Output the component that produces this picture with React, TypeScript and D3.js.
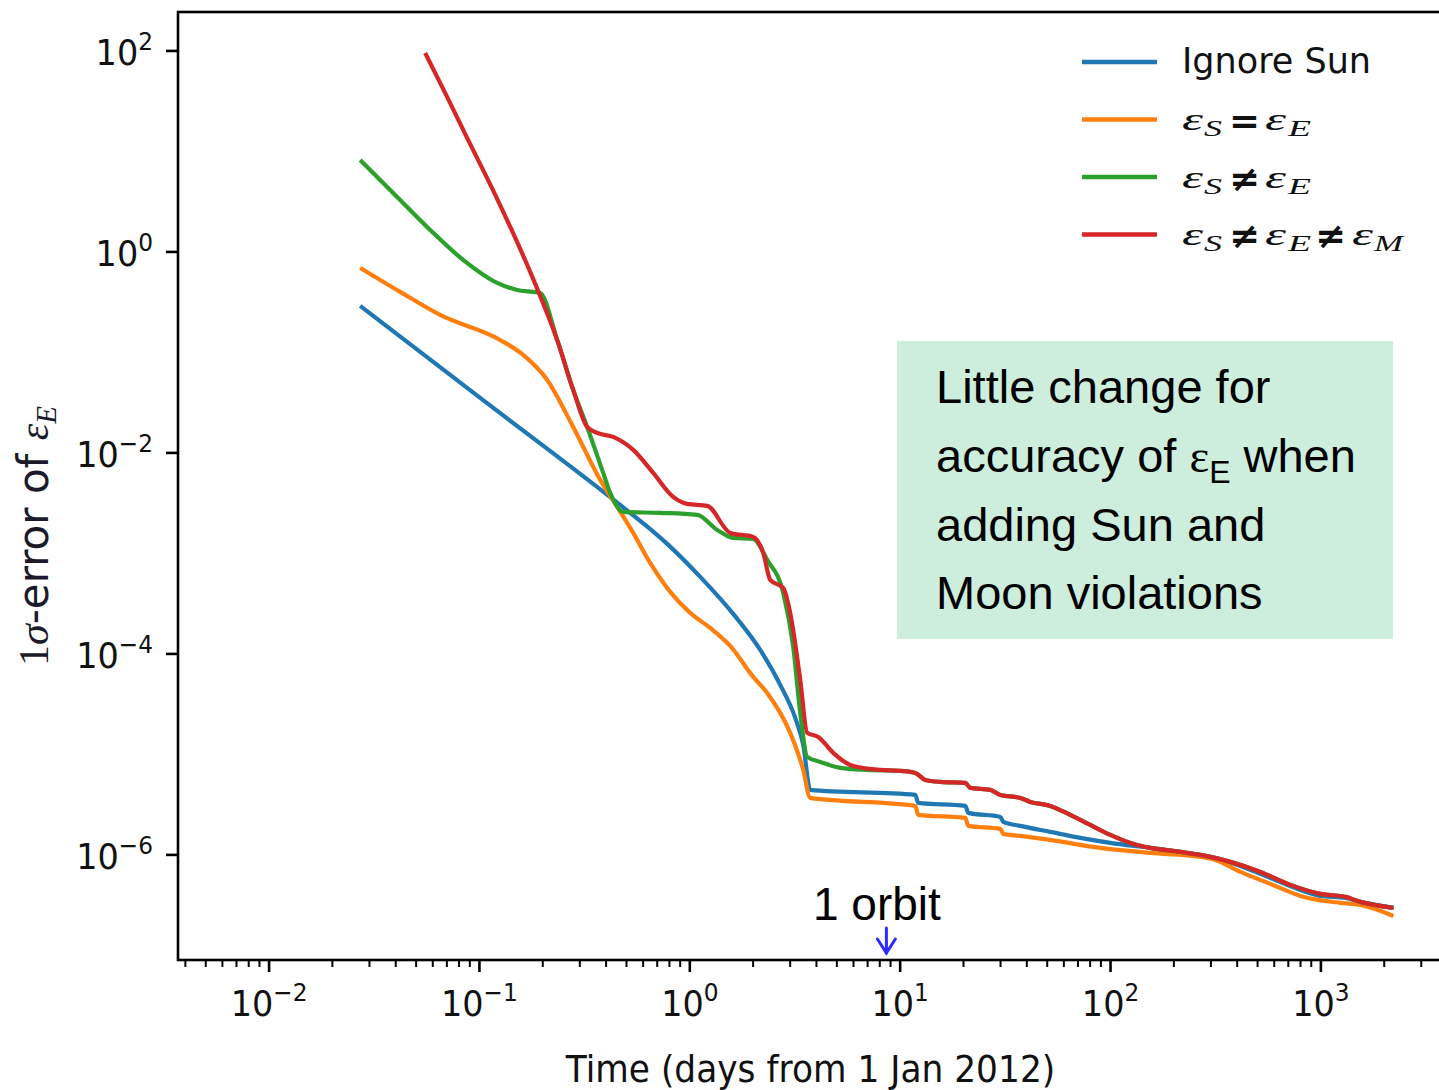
import React from 'react';
import * as d3 from 'd3';

// ---------- data (time in days, 1-sigma error of epsilon_E) ----------
const ignoreSun: [number, number][] = [
  [0.0271, 0.2901], [0.1008, 0.03525], [0.4667, 0.003038], [0.6137, 0.001921],
  [0.7808, 1.243e-3], [1.121, 5.836e-4], [1.608, 2.5e-4], [2.161, 1.096e-4],
  [2.691, 4.915e-5], [3.171, 2.308e-5], [3.461, 1.243e-5], [3.737, 4.434e-6],
  [11.8, 3.954e-6], [12.19, 3.291e-6], [20.4, 3.074e-6], [21.08, 2.618e-6],
  [29.92, 2.388e-6], [30.93, 2.129e-6], [37.25, 1.943e-6], [51.73, 1.693e-6],
  [71.84, 1.476e-6], [99.8, 1.316e-6], [154.6, 1.174e-6], [267.3, 1.0e-6],
  [315.1, 9.34e-7], [414.2, 7.77e-7], [575.4, 5.9e-7], [798.9, 4.48e-7],
  [994.5, 3.91e-7], [1308, 3.73e-7], [1541, 3.41e-7], [2212, 2.97e-7],
];

const sunEqualEarth: [number, number][] = [
  [0.0271, 0.6933], [0.042, 0.3999], [0.065, 0.2361], [0.1254, 0.1331],
  [0.1614, 0.09443], [0.2099, 0.05326], [0.279, 0.01814], [0.375, 0.005387],
  [0.4516, 0.002902], [0.5382, 0.001599], [0.6481, 8.04e-4], [0.8069, 4.139e-4],
  [1.004, 2.559e-4], [1.25, 1.814e-4], [1.556, 1.201e-4], [2.002, 5.9e-5],
  [2.333, 4.09e-5], [3.001, 1.637e-5], [3.461, 7.011e-6], [3.737, 3.691e-6],
  [11.8, 3.074e-6],
  [12.19, 2.5e-6], [20.4, 2.334e-6], [21.08, 1.943e-6], [29.92, 1.813e-6],
  [30.93, 1.618e-6], [37.25, 1.545e-6], [51.73, 1.41e-6], [89.44, 1.174e-6],
  [154.6, 1.047e-6], [267.3, 9.55e-7], [315.1, 8.92e-7], [414.2, 6.77e-7],
  [575.4, 5.15e-7], [798.9, 3.91e-7], [1238, 3.33e-7], [1541, 3.18e-7],
  [2212, 2.47e-7],
];

const sunNotEarth: [number, number][] = [
  [0.0271, 8.23], [0.04062, 3.526], [0.0583, 1.655], [0.08365, 0.8325],
  [0.1214, 0.4915], [0.1511, 0.4186], [0.18, 0.3999], [0.1943, 0.3909],
  [0.2342, 0.1331], [0.279, 0.04234], [0.3252, 0.01814], [0.3874, 0.006324],
  [0.4183, 0.003999], [0.4823, 0.002588], [0.7233, 0.002529], [1.084, 0.002415],
  [1.35, 0.001713], [1.608, 0.001426], [2.002, 0.001393], [2.333, 8.618e-4],
  [2.781, 4.045e-4], [3.103, 1.174e-4], [3.35, 2.588e-5], [3.616, 9.443e-6],
  [4.169, 8.421e-6], [5.191, 7.34e-6], [6.975, 7.011e-6],
  [10.01, 6.852e-6], [11.8, 6.545e-6], [13.16, 5.575e-6], [15.51, 5.326e-6],
  [20.4, 5.205e-6], [21.54, 4.642e-6], [26.82, 4.434e-6], [29.92, 3.954e-6],
  [37.25, 3.691e-6], [41.56, 3.368e-6], [51.73, 3.074e-6], [64.41, 2.5e-6],
  [80.15, 1.988e-6], [99.8, 1.58e-6], [124.2, 1.316e-6], [154.6, 1.174e-6],
  [214.8, 1.071e-6], [298.3, 9.55e-7], [371.3, 8.52e-7], [515.6, 6.77e-7],
  [716.0, 5.03e-7], [994.5, 4.09e-7], [1308, 3.82e-7], [1541, 3.41e-7],
  [2212, 2.97e-7],
];

const sunEarthMoon: [number, number][] = [
  [0.0552, 95.5], [0.06869, 38.2], [0.08551, 14.94], [0.1214, 3.368],
  [0.1743, 0.6324], [0.1943, 0.365], [0.2342, 0.1331], [0.279, 0.04234],
  [0.3252, 0.01814], [0.3628, 0.01581], [0.4323, 0.01442], [0.5382, 0.01071],
  [0.6697, 0.006324], [0.8338, 0.00365], [0.9719, 0.003109], [1.21, 0.00297],
  [1.556, 0.001599], [2.002, 0.001459], [2.234, 0.001012], [2.412, 5.447e-4],
  [2.781, 4.537e-4], [3.001, 2.559e-4], [3.35, 5.51e-5], [3.616, 1.637e-5],
  [4.079, 1.494e-5], [4.807, 1.035e-5], [5.79, 7.863e-6], [8.043, 7.011e-6],
  [10.01, 6.852e-6], [11.8, 6.545e-6], [13.16, 5.575e-6], [15.51, 5.326e-6],
  [20.4, 5.205e-6], [21.54, 4.642e-6], [26.82, 4.434e-6], [29.92, 3.954e-6],
  [37.25, 3.691e-6], [41.56, 3.368e-6], [51.73, 3.074e-6], [64.41, 2.5e-6],
  [80.15, 1.988e-6], [99.8, 1.58e-6], [124.2, 1.316e-6], [154.6, 1.174e-6],
  [214.8, 1.071e-6], [298.3, 9.55e-7], [371.3, 8.52e-7], [515.6, 6.77e-7],
  [716.0, 5.03e-7], [994.5, 4.09e-7], [1308, 3.82e-7], [1541, 3.41e-7],
  [2212, 2.97e-7],
];

const xTickExps = [-2, -1, 0, 1, 2, 3];
const yTickExps = [2, 0, -2, -4, -6];
const orbitDays = 8.6;

const series = [
  { key: 'ignore', data: ignoreSun, color: '#1f77b4' },
  { key: 'eq', data: sunEqualEarth, color: '#ff7f0e' },
  { key: 'neq', data: sunNotEarth, color: '#2ca02c' },
  { key: 'neqm', data: sunEarthMoon, color: '#d62728' },
];

const SANS = "'DejaVu Sans', sans-serif";
const SERIF = "'Liberation Serif', 'DejaVu Serif', serif";
const ARIAL = "'Liberation Sans', Arial, sans-serif";

function TickLabel({ x, y, exp, anchor }: { x: number; y: number; exp: number; anchor: string }) {
  return (
    <g transform={`translate(${x},${y}) scale(0.93,1)`}>
      <text x={0} y={0} textAnchor={anchor} fontFamily={SANS} fontSize={36} fill="#111">
        10<tspan fontSize={25} dy={-15}>{exp < 0 ? '\u2212' + Math.abs(exp) : String(exp)}</tspan>
      </text>
    </g>
  );
}

export default function App() {
  const W = 1439, H = 1090;
  const left = 178, right = 1445, top = 12, bottom = 960;
  const x = d3.scaleLog().domain([0.00369, 3890]).range([left, right]);
  const y = d3.scaleLog().domain([9.0e-8, 244]).range([bottom, top]);
  const line = d3.line<[number, number]>()
    .x(d => x(d[0]))
    .y(d => y(d[1]))
    .curve(d3.curveMonotoneX);

  const minor: number[] = [];
  for (let e = -3; e <= 3; e++) {
    for (let m = 2; m <= 9; m++) {
      const v = m * Math.pow(10, e);
      if (v > x.domain()[0] && v < x.domain()[1]) minor.push(v);
    }
  }

  const legendRows = [0, 1, 2, 3].map(i => 62 + i * 57.5);
  const eps = (px: number, by: number, k: string) => (
    <text key={k} x={px} y={by} fontFamily={SERIF} fontStyle="italic" fontSize={31}
      textLength={21} lengthAdjust="spacingAndGlyphs" fill="#111">ε</text>
  );
  const subL = (px: number, by: number, t: string, w: number, k: string) => (
    <text key={k} x={px} y={by + 6} fontFamily={SERIF} fontStyle="italic" fontSize={24}
      textLength={w} lengthAdjust="spacingAndGlyphs" fill="#111">{t}</text>
  );
  const rel = (px: number, by: number, t: string, k: string) => (
    <text key={k} x={px} y={by + 3} fontFamily={SANS} fontWeight="bold" fontSize={36}
      textLength={31} lengthAdjust="spacingAndGlyphs" fill="#111">{t}</text>
  );

  return (
    <svg width={W} height={H} style={{ position: 'absolute', left: 0, top: 0, background: '#fff' }}>
      <rect x={0} y={0} width={W} height={H} fill="#fff" />
      {/* series */}
      {series.map(s => (
        <path key={s.key} d={line(s.data) || ''} fill="none" stroke={s.color}
          strokeWidth={4.2} strokeLinejoin="round" strokeLinecap="butt" />
      ))}
      {/* spines */}
      <rect x={left} y={top} width={right - left} height={bottom - top} fill="none" stroke="#000" strokeWidth={2.6} />
      {/* x minor ticks */}
      {minor.map((v, i) => (
        <line key={'mn' + i} x1={x(v)} x2={x(v)} y1={bottom} y2={bottom + 7} stroke="#000" strokeWidth={2} />
      ))}
      {/* x major ticks */}
      {xTickExps.map(e => (
        <g key={'xt' + e}>
          <line x1={x(Math.pow(10, e))} x2={x(Math.pow(10, e))} y1={bottom} y2={bottom + 12} stroke="#000" strokeWidth={2.6} />
          <TickLabel x={x(Math.pow(10, e))} y={1016} exp={e} anchor="middle" />
        </g>
      ))}
      {/* y major ticks */}
      {yTickExps.map(e => (
        <g key={'yt' + e}>
          <line x1={left - 12} x2={left} y1={y(Math.pow(10, e))} y2={y(Math.pow(10, e))} stroke="#000" strokeWidth={2.6} />
          <TickLabel x={153} y={y(Math.pow(10, e)) + 14} exp={e} anchor="end" />
        </g>
      ))}
      {/* axis labels */}
      <g transform={`translate(${(left + right) / 2 - 1},1082) scale(0.93,1)`}>
        <text x={0} y={0} textAnchor="middle" fontFamily={SANS} fontSize={37} fill="#111">
          Time (days from 1 Jan 2012)
        </text>
      </g>
      <text transform="translate(48,536) rotate(-90)" textAnchor="middle" fontSize={42} fill="#1a1a2a">
        <tspan fontFamily={SERIF}>1</tspan>
        <tspan fontFamily={SERIF} fontStyle="italic">σ</tspan>
        <tspan fontFamily={SANS}>-error of </tspan>
        <tspan fontFamily={SERIF} fontStyle="italic">ε</tspan>
        <tspan fontFamily={SERIF} fontStyle="italic" fontSize={29} dy={8}>E</tspan>
      </text>
      {/* legend */}
      {series.map((s, i) => (
        <line key={'lg' + s.key} x1={1082} x2={1157} y1={legendRows[i]} y2={legendRows[i]} stroke={s.color} strokeWidth={4.5} />
      ))}
      <text x={1182} y={legendRows[0] + 11} fontFamily={SANS} fontSize={35} fill="#111">Ignore Sun</text>
      {(() => {
        const b1 = legendRows[1] + 10.5, b2 = legendRows[2] + 10.5, b3 = legendRows[3] + 10.5;
        return (
          <g>
            {eps(1182, b1, 'e1')}{subL(1204, b1, 'S', 18, 's1')}{rel(1229, b1, '=', 'r1')}{eps(1265, b1, 'e2')}{subL(1288, b1, 'E', 23, 's2')}
            {eps(1182, b2, 'e3')}{subL(1204, b2, 'S', 18, 's3')}{rel(1229, b2, '≠', 'r2')}{eps(1265, b2, 'e4')}{subL(1288, b2, 'E', 23, 's4')}
            {eps(1182, b3, 'e5')}{subL(1204, b3, 'S', 18, 's5')}{rel(1229, b3, '≠', 'r3')}{eps(1265, b3, 'e6')}{subL(1288, b3, 'E', 23, 's6')}
            {rel(1315, b3, '≠', 'r4')}{eps(1352, b3, 'e7')}{subL(1374, b3, 'M', 29, 's7')}
          </g>
        );
      })()}
      {/* annotation box */}
      <rect x={897} y={341} width={496} height={298} fill="#cdeddd" />
      <g fontFamily={ARIAL} fontSize={47} fill="#000">
        <text x={936} y={403}>Little change for</text>
        <text x={936} y={472}>accuracy of <tspan fontFamily={SERIF}>ε</tspan><tspan fontSize={32} dy={11}>E</tspan><tspan dy={-11}> when</tspan></text>
        <text x={936} y={541}>adding Sun and</text>
        <text x={936} y={609}>Moon violations</text>
      </g>
      {/* 1 orbit marker */}
      <text x={813} y={920} fontFamily={ARIAL} fontSize={46} fill="#000">1 orbit</text>
      <g stroke="#2b2bff" strokeWidth={3} fill="none" strokeLinecap="round">
        <line x1={x(orbitDays)} x2={x(orbitDays)} y1={928} y2={953} />
        <polyline points={`${x(orbitDays) - 9},${939} ${x(orbitDays)},${953} ${x(orbitDays) + 9},${939}`} />
      </g>
    </svg>
  );
}
